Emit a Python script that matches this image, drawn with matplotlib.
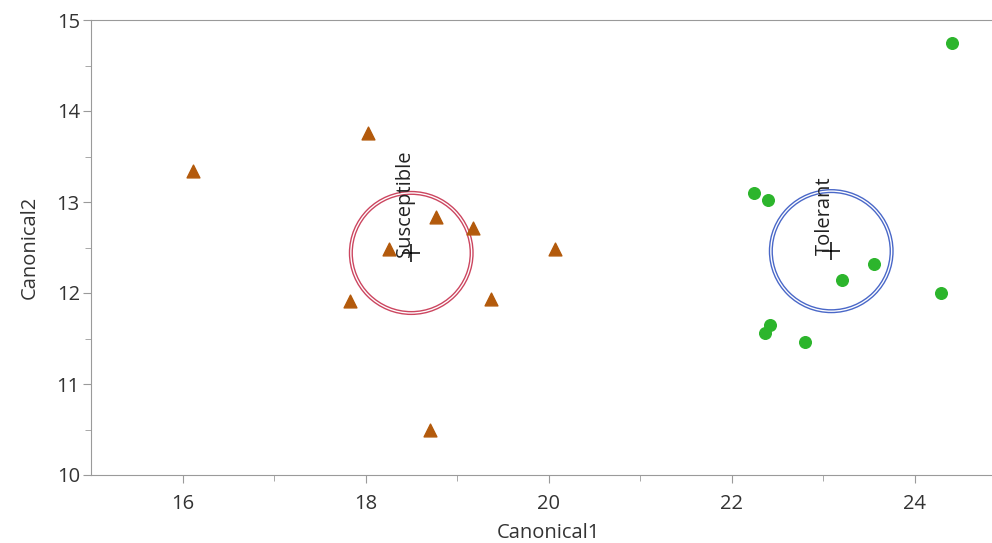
import numpy as np
import matplotlib.pyplot as plt
from matplotlib.patches import Circle

plt.rcParams['font.family'] = ['Open Sans', 'DejaVu Sans']

# canonical scores, Susceptible group
sus_c1 = [16.11, 18.03, 18.77, 19.17, 18.26, 20.07, 17.83, 19.37, 18.71]
sus_c2 = [13.34, 13.76, 12.84, 12.71, 12.48, 12.48, 11.91, 11.93, 10.49]

# canonical scores, Tolerant group
tol_c1 = [22.25, 22.40, 23.56, 23.21, 24.29, 22.42, 22.37, 22.80, 24.41]
tol_c2 = [13.10, 13.02, 12.32, 12.14, 12.00, 11.65, 11.56, 11.46, 14.75]

# group means and circle radii
group_names = ['Susceptible', 'Tolerant']
mean_c1 = [18.50, 23.09]
mean_c2 = [12.44, 12.46]
circle_r = [0.645, 0.675]
circle_colors = ['#cc4660', '#4a68c8']

fig = plt.figure(figsize=(9.92, 5.43), dpi=100)
ax = fig.add_axes([91 / 992, 68 / 543, 915 / 992, 455 / 543])

ax.scatter(sus_c1, sus_c2, marker='^', s=85, color='#b35a0c', zorder=3)
ax.scatter(tol_c1, tol_c2, marker='o', s=70, color='#2cb52c', zorder=3)

for name, cx, cy, col in zip(group_names, mean_c1, mean_c2, circle_colors):
    for r in circle_r:
        ax.add_patch(Circle((cx, cy), r, fill=False, edgecolor=col, lw=1.0, zorder=2))
    ax.plot(cx, cy, marker='+', color='black', markersize=13, mew=1.1, zorder=4)
    ax.text(cx + 0.035, cy - 0.04, name, rotation=90, ha='right', va='bottom',
            fontsize=14.5, color='#222222', zorder=5)

ax.set_xlim(15, 25)
ax.set_ylim(10, 15)
ax.set_xticks([16, 18, 20, 22, 24])
ax.set_xticks([17, 19, 21, 23], minor=True)
ax.set_yticks([10, 11, 12, 13, 14, 15])
ax.set_yticks(np.arange(10.5, 15, 1.0), minor=True)

for s in ax.spines.values():
    s.set_color('#9a9a9a')
ax.spines['right'].set_visible(False)
ax.tick_params(which='major', length=6, color='#9a9a9a', labelsize=14.5, labelcolor='#333333')
ax.tick_params(axis='x', which='major', pad=8)
ax.tick_params(axis='y', which='major', pad=2)
ax.tick_params(which='minor', length=4, color='#9a9a9a')

ax.set_xlabel('Canonical1', fontsize=14.5, color='#333333', labelpad=6)
ax.set_ylabel('Canonical2', fontsize=14.5, color='#333333', labelpad=12)

fig.savefig('out.png', dpi=100)
